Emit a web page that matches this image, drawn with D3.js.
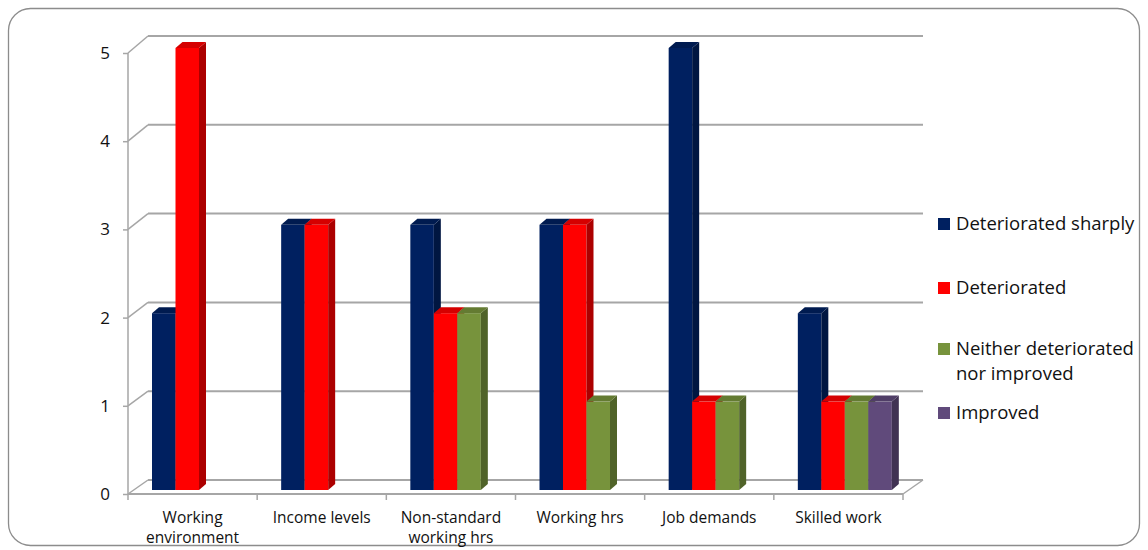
<!DOCTYPE html>
<html>
<head>
<meta charset="utf-8">
<script src="https://cdn.jsdelivr.net/npm/d3@7"></script>
<style>
  body { margin: 0; background: #fff; }
  text { font-family: "Open Sans", Lato, sans-serif; fill: #111; }
</style>
</head>
<body>
<script>
// chart data
var categories = ["Working environment", "Income levels", "Non-standard working hrs", "Working hrs", "Job demands", "Skilled work"];
var categoryLines = [["Working", "environment"], ["Income levels"], ["Non-standard", "working hrs"], ["Working hrs"], ["Job demands"], ["Skilled work"]];
var seriesNames = ["Deteriorated sharply", "Deteriorated", "Neither deteriorated nor improved", "Improved"];
var legendLines = [["Deteriorated sharply"], ["Deteriorated"], ["Neither deteriorated", "nor improved"], ["Improved"]];
var deterioratedSharply = [2, 3, 3, 3, 5, 2];
var deteriorated = [5, 3, 2, 3, 1, 1];
var neither = [0, 0, 2, 1, 1, 1];
var improved = [0, 0, 0, 0, 0, 1];
var yTicks = [0, 1, 2, 3, 4, 5];
var colors = ["#002060", "#ff0000", "#77933c", "#604a7b"];

var width = 1148;
var height = 550;
var depthX = 20;                  // wall depth
var barDX = 7, barDY = 6;         // bar depth

var svg = d3.select("body")
    .append("svg")
    .attr("width", width)
    .attr("height", height);

// outer frame
svg.append("rect")
    .attr("x", 8.5)
    .attr("y", 8.5)
    .attr("width", 1131)
    .attr("height", 537)
    .attr("rx", 22)
    .attr("fill", "#fff")
    .attr("stroke", "#8c8c8c")
    .attr("stroke-width", 1.3);

var x = d3.scaleBand().domain(categories).range([128, 903]);
var xs = d3.scaleBand().domain(d3.range(seriesNames.length)).range([24, 24 + 4 * 23.5]);
var yFront = d3.scaleLinear().domain([0, 5]).range([494, 53]);
var yBack = d3.scaleLinear().domain([0, 5]).range([480, 36]);
var yBar = d3.scaleLinear().domain([0, 5]).range([490, 48]);

var gridColor = "#a6a6a6";

// back wall gridlines + the small diagonals of the side wall
var grid = svg.append("g");
yTicks.forEach(function (t) {
    grid.append("line")
        .attr("x1", 128 + depthX).attr("x2", 903 + depthX)
        .attr("y1", yBack(t)).attr("y2", yBack(t))
        .attr("stroke", gridColor).attr("stroke-width", 2);
    grid.append("line")
        .attr("x1", 128).attr("y1", yFront(t))
        .attr("x2", 128 + depthX).attr("y2", yBack(t))
        .attr("stroke", gridColor).attr("stroke-width", 1.5);
});

// floor front edge and right edge
grid.append("line")
    .attr("x1", 128).attr("x2", 903)
    .attr("y1", yFront(0)).attr("y2", yFront(0))
    .attr("stroke", gridColor).attr("stroke-width", 2);
grid.append("line")
    .attr("x1", 903).attr("y1", yFront(0))
    .attr("x2", 903 + depthX).attr("y2", yBack(0))
    .attr("stroke", gridColor).attr("stroke-width", 1.5);

// y axis
var yAxis = svg.append("g")
    .attr("transform", "translate(128,0)")
    .call(d3.axisLeft(yFront).tickValues(yTicks).tickFormat(d3.format("d")).tickSize(5).tickPadding(13));
yAxis.selectAll("path, line").attr("stroke", gridColor).attr("stroke-width", 1.5);
yAxis.select(".domain").attr("d", "M0," + yFront(5) + "V" + yFront(0));
yAxis.selectAll("text")
    .style("font-family", "'Open Sans', Lato, sans-serif")
    .style("font-size", "17px")
    .attr("fill", "#111");

// x axis ticks at category edges
var edges = categories.map(function (c) { return x(c); }).concat([x.range()[1]]);
svg.append("g").selectAll("line")
    .data(edges)
    .enter()
    .append("line")
    .attr("x1", function (d) { return d; })
    .attr("x2", function (d) { return d; })
    .attr("y1", yFront(0))
    .attr("y2", yFront(0) + 6)
    .attr("stroke", gridColor)
    .attr("stroke-width", 1.5);

// category labels
var catLabel = svg.append("g").selectAll("text")
    .data(categories)
    .enter()
    .append("text")
    .attr("text-anchor", "middle")
    .style("font-size", "15.5px")
    .attr("x", function (d) { return x(d) + x.bandwidth() / 2; })
    .attr("y", 523);
catLabel.selectAll("tspan")
    .data(function (d, i) { return categoryLines[i]; })
    .enter()
    .append("tspan")
    .attr("x", function () { return d3.select(this.parentNode).attr("x"); })
    .attr("dy", function (d, i) { return i == 0 ? 0 : 20; })
    .text(function (d) { return d; });

// bars
var allSeries = [deterioratedSharply, deteriorated, neither, improved];
var bars = [];
categories.forEach(function (c, ci) {
    allSeries.forEach(function (s, si) {
        if (s[ci] > 0) bars.push({cat: c, s: si, v: s[ci]});
    });
});

var bw = xs.bandwidth();
var barG = svg.append("g").selectAll("g")
    .data(bars)
    .enter()
    .append("g");

barG.append("rect")
    .attr("x", function (d) { return x(d.cat) + xs(d.s); })
    .attr("y", function (d) { return yBar(d.v); })
    .attr("width", bw)
    .attr("height", function (d) { return yBar(0) - yBar(d.v); })
    .attr("fill", function (d) { return colors[d.s]; });

// side face
barG.append("polygon")
    .attr("points", function (d) {
        var x0 = x(d.cat) + xs(d.s) + bw, y0 = yBar(d.v), y1 = yBar(0);
        return [[x0, y0], [x0 + barDX, y0 - barDY], [x0 + barDX, y1 - barDY], [x0, y1]].join(" ");
    })
    .attr("fill", function (d) { return d3.color(colors[d.s]).darker(1.1); });

// top face
barG.append("polygon")
    .attr("points", function (d) {
        var x0 = x(d.cat) + xs(d.s), y0 = yBar(d.v);
        return [[x0, y0], [x0 + barDX, y0 - barDY], [x0 + bw + barDX, y0 - barDY], [x0 + bw, y0]].join(" ");
    })
    .attr("fill", function (d) { return d3.color(colors[d.s]).darker(0.5); });

// legend
var legendY = [224, 288, 349, 413];
var legend = svg.append("g").selectAll("g")
    .data(seriesNames)
    .enter()
    .append("g")
    .attr("transform", function (d, i) { return "translate(938," + legendY[i] + ")"; });
legend.append("rect")
    .attr("x", 0)
    .attr("y", -6)
    .attr("width", 12)
    .attr("height", 12)
    .attr("fill", function (d, i) { return colors[i]; });
var legText = legend.append("text")
    .attr("x", 18)
    .attr("y", 6)
    .style("font-size", "18.5px");
legText.selectAll("tspan")
    .data(function (d, i) { return legendLines[i]; })
    .enter()
    .append("tspan")
    .attr("x", 18)
    .attr("dy", function (d, i) { return i == 0 ? 0 : 25; })
    .text(function (d) { return d; });
</script>
</body>
</html>
